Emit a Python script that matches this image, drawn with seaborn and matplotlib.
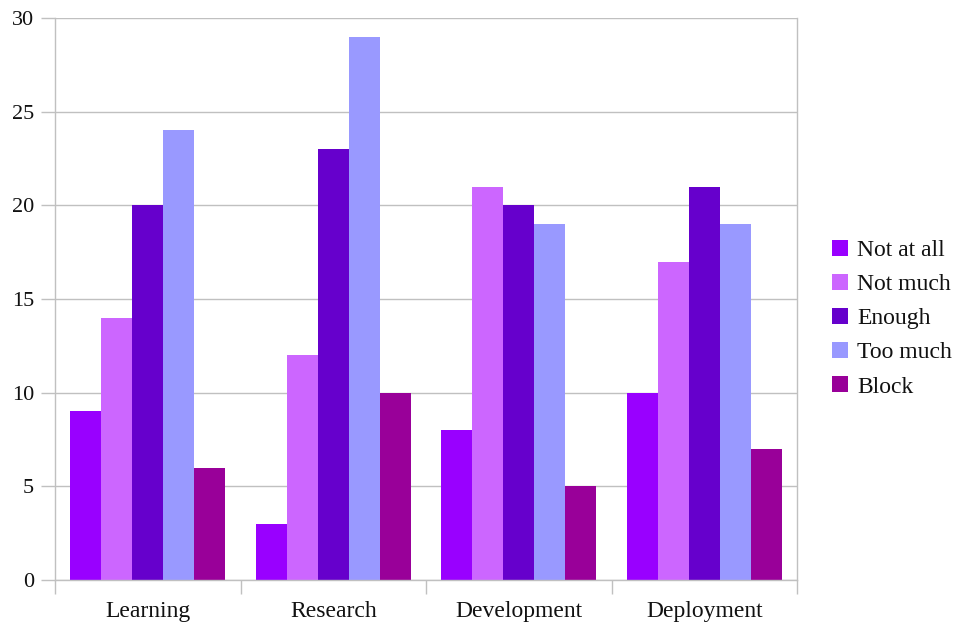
import matplotlib
matplotlib.use("Agg")
import matplotlib.pyplot as plt
import seaborn as sns
import pandas as pd
from matplotlib.ticker import FixedLocator

categories = ["Learning", "Research", "Development", "Deployment"]
series = ["Not at all", "Not much", "Enough", "Too much", "Block"]
not_at_all = [9, 3, 8, 10]
not_much = [14, 12, 21, 17]
enough = [20, 23, 20, 21]
too_much = [24, 29, 19, 19]
block = [6, 10, 5, 7]
colors = ["#9900FF", "#CC66FF", "#6600CC", "#9999FF", "#990099"]
y_ticks = [0, 5, 10, 15, 20, 25, 30]

values = [not_at_all, not_much, enough, too_much, block]
rows = []
for name, vals in zip(series, values):
    for cat, v in zip(categories, vals):
        rows.append({"category": cat, "series": name, "value": v})
df = pd.DataFrame(rows)

sns.set_theme(style="white")
plt.rcParams["font.family"] = ["Liberation Serif", "DejaVu Serif"]

fig = plt.figure(figsize=(9.67, 6.25), dpi=100)
ax = fig.add_axes([55 / 967, 45 / 625, (797 - 55) / 967, (580 - 18) / 625])

sns.barplot(data=df, x="category", y="value", hue="series", order=categories,
            hue_order=series, palette=colors, width=0.835, saturation=1,
            linewidth=0, ax=ax, errorbar=None)

ax.set_ylim(0, 30)
ax.set_xlim(-0.5, len(categories) - 0.5)
ax.set_yticks(y_ticks)
ax.set_yticklabels([str(t) for t in y_ticks], fontsize=16, color="#111111")
ax.yaxis.grid(True, color="#c0c0c0", linewidth=1)
ax.set_axisbelow(True)
ax.set_xlabel("")
ax.set_ylabel("")

# Category labels centred, tick marks on the group boundaries
ax.tick_params(axis="x", which="major", length=0, labelsize=17, pad=15,
               labelcolor="#111111")
ax.xaxis.set_minor_locator(FixedLocator([i - 0.5 for i in range(len(categories) + 1)]))
ax.tick_params(axis="x", which="minor", length=10, width=1, color="#c0c0c0",
               direction="out", bottom=True)
ax.tick_params(axis="y", length=10, width=1, color="#c0c0c0", direction="out",
               left=True, pad=5)

for side in ["left", "bottom", "right"]:
    ax.spines[side].set_visible(True)
    ax.spines[side].set_color("#c0c0c0")
    ax.spines[side].set_linewidth(1)
ax.spines["top"].set_visible(False)

leg = ax.legend(loc="center left", bbox_to_anchor=(1.035, 0.465), frameon=False,
                fontsize=17, handlelength=0.65, handleheight=0.65,
                handletextpad=0.4, labelspacing=0.55, borderaxespad=0)
for t in leg.get_texts():
    t.set_color("#111111")

fig.savefig("out.png", dpi=100, facecolor="white")
